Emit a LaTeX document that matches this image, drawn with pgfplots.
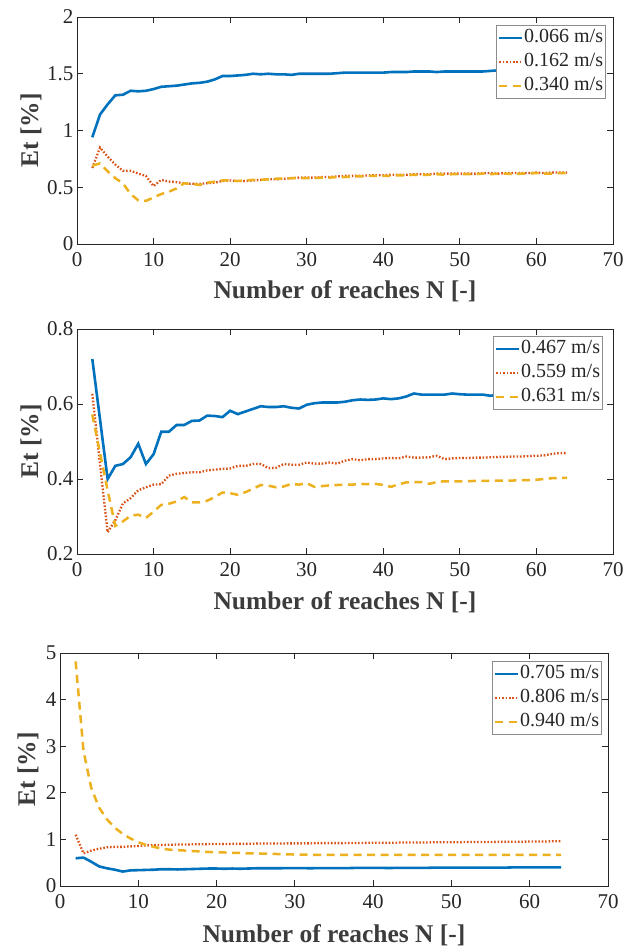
\documentclass[border=0pt]{standalone}
\usepackage{fontspec}
\setmainfont{Liberation Serif}
\usepackage{pgfplots}
\usepackage{pgfplotstable}
\pgfplotsset{compat=1.18}
\definecolor{c1}{rgb}{0,0.447,0.741}
\definecolor{c2}{rgb}{0.85,0.325,0.098}
\definecolor{c3}{rgb}{0.929,0.694,0.125}
\definecolor{axgray}{rgb}{0.15,0.15,0.15}

\pgfplotstableread{
x a b c
2 0.94 0.67 0.69
3 1.14 0.85 0.71
4 1.23 0.77 0.64
5 1.31 0.70 0.58
6 1.315 0.645 0.535
7 1.35 0.645 0.44
8 1.345 0.62 0.385
9 1.35 0.60 0.38
10 1.365 0.51 0.41
11 1.385 0.565 0.44
12 1.39 0.55 0.46
13 1.395 0.545 0.49
14 1.405 0.535 0.535
15 1.415 0.53 0.53
16 1.42 0.53 0.52
17 1.43 0.535 0.54
18 1.45 0.54 0.55
19 1.48 0.555 0.56
20 1.48 0.56 0.56
21 1.485 0.555 0.555
22 1.49 0.555 0.56
23 1.50 0.56 0.565
24 1.495 0.565 0.565
25 1.50 0.57 0.57
26 1.495 0.57 0.575
27 1.495 0.575 0.575
28 1.49 0.58 0.58
29 1.50 0.585 0.58
30 1.50 0.585 0.58
31 1.50 0.585 0.58
32 1.50 0.59 0.585
33 1.50 0.59 0.585
34 1.505 0.595 0.59
35 1.51 0.60 0.59
36 1.51 0.60 0.595
37 1.51 0.60 0.595
38 1.51 0.605 0.60
39 1.51 0.605 0.60
40 1.51 0.605 0.60
41 1.515 0.61 0.60
42 1.515 0.61 0.605
43 1.515 0.61 0.605
44 1.52 0.615 0.61
45 1.52 0.615 0.61
46 1.52 0.615 0.61
47 1.515 0.62 0.615
48 1.52 0.62 0.61
49 1.52 0.62 0.615
50 1.52 0.62 0.615
51 1.52 0.62 0.615
52 1.52 0.62 0.615
53 1.52 0.625 0.62
54 1.525 0.625 0.615
55 1.53 0.62 0.62
56 1.53 0.625 0.62
57 1.53 0.625 0.615
58 1.53 0.625 0.62
59 1.53 0.625 0.62
60 1.53 0.63 0.625
61 1.53 0.625 0.62
62 1.53 0.63 0.62
63 1.53 0.63 0.625
64 1.53 0.63 0.625
}\tA

\pgfplotstableread{
x a b c
2 0.72 0.627 0.572
3 0.56 0.44 0.47
4 0.40 0.258 0.37
5 0.435 0.29 0.275
6 0.44 0.335 0.287
7 0.458 0.349 0.302
8 0.494 0.37 0.305
9 0.44 0.378 0.296
10 0.466 0.385 0.313
11 0.526 0.386 0.331
12 0.526 0.409 0.334
13 0.544 0.414 0.34
14 0.544 0.416 0.352
15 0.555 0.418 0.338
16 0.556 0.418 0.338
17 0.569 0.423 0.342
18 0.568 0.425 0.352
19 0.565 0.427 0.364
20 0.582 0.428 0.362
21 0.573 0.435 0.358
22 0.58 0.435 0.365
23 0.587 0.44 0.374
24 0.594 0.44 0.384
25 0.592 0.429 0.382
26 0.592 0.43 0.378
27 0.594 0.44 0.38
28 0.59 0.438 0.387
29 0.588 0.438 0.385
30 0.598 0.444 0.389
31 0.602 0.441 0.379
32 0.604 0.441 0.381
33 0.604 0.444 0.383
34 0.604 0.441 0.384
35 0.606 0.449 0.385
36 0.61 0.453 0.385
37 0.612 0.45 0.387
38 0.611 0.453 0.386
39 0.612 0.453 0.387
40 0.615 0.455 0.384
41 0.613 0.456 0.379
42 0.615 0.455 0.386
43 0.62 0.46 0.391
44 0.628 0.457 0.392
45 0.625 0.457 0.392
46 0.625 0.458 0.387
47 0.625 0.462 0.392
48 0.625 0.453 0.394
49 0.628 0.455 0.394
50 0.626 0.456 0.394
51 0.625 0.456 0.394
52 0.625 0.457 0.395
53 0.625 0.457 0.395
54 0.622 0.458 0.395
55 0.625 0.459 0.396
56 0.634 0.459 0.396
57 0.636 0.46 0.396
58 0.636 0.46 0.397
59 0.637 0.461 0.397
60 0.638 0.462 0.398
61 0.638 0.463 0.40
62 0.64 0.467 0.402
63 0.64 0.469 0.403
64 0.64 0.469 0.403
}\tB

\pgfplotstableread{
x a b c
2 0.595 1.10 4.82
3 0.61 0.70 2.90
4 0.52 0.76 2.10
5 0.42 0.80 1.68
6 0.38 0.83 1.43
7 0.35 0.84 1.25
8 0.31 0.84 1.12
9 0.335 0.85 1.02
10 0.34 0.86 0.94
11 0.345 0.87 0.88
12 0.35 0.88 0.84
13 0.36 0.88 0.80
14 0.36 0.885 0.78
15 0.355 0.89 0.77
16 0.36 0.89 0.76
17 0.365 0.895 0.75
18 0.37 0.895 0.74
19 0.375 0.90 0.73
20 0.375 0.90 0.72
21 0.37 0.90 0.72
22 0.375 0.905 0.71
23 0.37 0.905 0.71
24 0.375 0.905 0.70
25 0.38 0.91 0.70
26 0.38 0.91 0.695
27 0.38 0.91 0.69
28 0.38 0.91 0.685
29 0.385 0.915 0.68
30 0.385 0.915 0.675
31 0.385 0.915 0.675
32 0.38 0.915 0.67
33 0.385 0.92 0.67
34 0.385 0.92 0.67
35 0.385 0.92 0.67
36 0.385 0.92 0.67
37 0.385 0.925 0.67
38 0.39 0.925 0.67
39 0.39 0.925 0.67
40 0.39 0.93 0.67
41 0.39 0.93 0.67
42 0.385 0.93 0.67
43 0.39 0.93 0.67
44 0.39 0.935 0.67
45 0.39 0.935 0.67
46 0.39 0.935 0.67
47 0.39 0.935 0.67
48 0.395 0.94 0.67
49 0.395 0.94 0.67
50 0.395 0.94 0.67
51 0.395 0.94 0.67
52 0.395 0.945 0.67
53 0.395 0.945 0.67
54 0.395 0.945 0.67
55 0.395 0.945 0.67
56 0.395 0.95 0.67
57 0.395 0.95 0.67
58 0.40 0.95 0.67
59 0.40 0.95 0.67
60 0.40 0.955 0.67
61 0.40 0.955 0.67
62 0.40 0.955 0.67
63 0.40 0.96 0.67
64 0.40 0.96 0.67
}\tC

\pgfplotsset{
  myax/.style={
    scale only axis,
    xmin=0, xmax=70, xtick={0,10,...,70},
    tick align=inside,
    major tick length=6pt,
    axis line style={draw=axgray, line width=0.9pt},
    tick style={draw=axgray, line width=0.9pt},
    /pgf/number format/assume math mode=true,
    ticklabel style={font=\rmfamily\fontsize{21}{24}\selectfont, text=axgray},
    xticklabel style={yshift=-5pt},
    label style={font=\rmfamily\fontsize{25.5}{30}\selectfont\bfseries, text=axgray!90!white},
    xlabel style={at={(axis description cs:0.5,0)}, anchor=center},
    xlabel={Number of reaches N [-]},
    ylabel={Et [\%]},
    legend cell align=left,
    legend style={at={(axis description cs:1,1)}, anchor=north east,
      draw=black!45, line width=0.8pt, fill=white,
      font=\rmfamily\fontsize{20}{22}\selectfont, text=axgray,
      inner xsep=2pt, inner ysep=2pt, row sep=3pt,
      nodes={inner sep=0.5pt, text height=15pt, text depth=5pt}},
    legend image code/.code={\draw[##1] (0pt,0pt) -- (23pt,0pt);},
  },
  sA/.style={c1, line width=2.6pt},
  sB/.style={c2, line width=2.3pt, dash pattern=on 1.6pt off 1.8pt},
  sC/.style={c3, line width=2.5pt, dash pattern=on 8pt off 5.5pt},
}

\begin{document}
\begin{tikzpicture}
\useasboundingbox (0pt,0pt) rectangle (635pt,-949pt);

\begin{axis}[myax, at={(77pt,-17pt)}, anchor=north west,
  width=536pt, height=227pt,
  ymin=0, ymax=2, ytick={0,0.5,1,1.5,2},
  xlabel style={yshift=-47pt},
  ylabel style={at={(axis description cs:-0.0858,0.5)}, anchor=center},
  legend style={xshift=-7pt, yshift=-8pt}]
\addplot[sA] table[x=x,y=a] {\tA};
\addplot[sB] table[x=x,y=b] {\tA};
\addplot[sC] table[x=x,y=c] {\tA};
\legend{0.066 m/s, 0.162 m/s, 0.340 m/s}
\end{axis}

\begin{axis}[myax, at={(77pt,-329pt)}, anchor=north west,
  width=536pt, height=225pt,
  ymin=0.2, ymax=0.8, ytick={0.2,0.4,0.6,0.8},
  xlabel style={yshift=-48pt},
  ylabel style={at={(axis description cs:-0.0858,0.5)}, anchor=center},
  legend style={xshift=-10pt, yshift=-7pt}]
\addplot[sA] table[x=x,y=a] {\tB};
\addplot[sB] table[x=x,y=b] {\tB};
\addplot[sC] table[x=x,y=c] {\tB};
\legend{0.467 m/s, 0.559 m/s, 0.631 m/s}
\end{axis}

\begin{axis}[myax, at={(60pt,-653pt)}, anchor=north west,
  width=548pt, height=233pt,
  ymin=0, ymax=5, ytick={0,1,2,3,4,5},
  xlabel style={yshift=-49pt},
  ylabel style={at={(axis description cs:-0.0584,0.5)}, anchor=center},
  legend style={xshift=-6pt, yshift=-8pt}]
\addplot[sA] table[x=x,y=a] {\tC};
\addplot[sB] table[x=x,y=b] {\tC};
\addplot[sC] table[x=x,y=c] {\tC};
\legend{0.705 m/s, 0.806 m/s, 0.940 m/s}
\end{axis}
\end{tikzpicture}
\end{document}
